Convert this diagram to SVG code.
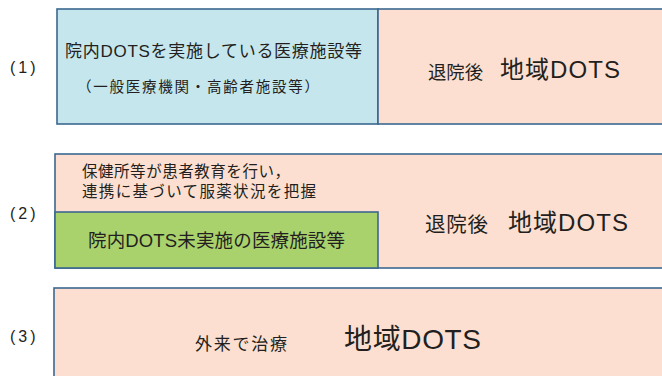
<svg xmlns="http://www.w3.org/2000/svg" width="662" height="376" viewBox="0 0 662 376">
<style>
text{font-family:"Noto Sans CJK JP","Noto Sans",sans-serif;fill:#231f20}
.lat{font-family:"Liberation Sans","Noto Sans",sans-serif}
.lbl{font-family:"Liberation Sans",sans-serif;font-size:16px;letter-spacing:3px}
.box{stroke:#3b6890;stroke-width:1.6}
.blue{fill:#c6e6ee}
.peach{fill:#fcdfd0}
.green{fill:#aad26c}
</style>
<rect width="662" height="376" fill="#ffffff"/>
<g id="row1">
<text class="lbl" x="10" y="73">(1)</text>
<g id="r1-left">
<rect class="box blue" x="57" y="9" width="321" height="115"/>
<text x="65" y="57" font-size="17" textLength="297" lengthAdjust="spacing">院内<tspan class="lat">DOTS</tspan>を実施している医療施設等</text>
<text x="77" y="92" font-size="14.5" textLength="242" lengthAdjust="spacing">（一般医療機関・高齢者施設等）</text>
</g>
<g id="r1-right">
<rect class="box peach" x="378" y="9" width="290" height="115"/>
<text x="428" y="79" font-size="18" textLength="55" lengthAdjust="spacingAndGlyphs">退院後</text>
<text x="500" y="78" font-size="24" textLength="120" lengthAdjust="spacing">地域<tspan class="lat">DOTS</tspan></text>
</g>
</g>
<g id="row2">
<text class="lbl" x="10" y="219">(2)</text>
<g id="r2-right">
<rect class="box peach" x="55" y="154" width="613" height="114"/>
<text x="82" y="177" font-size="15.5" textLength="208" lengthAdjust="spacing">保健所等が患者教育を行い，</text>
<text x="82" y="197" font-size="15.5" textLength="234" lengthAdjust="spacing">連携に基づいて服薬状況を把握</text>
<text x="425" y="232" font-size="20.5" textLength="63" lengthAdjust="spacing">退院後</text>
<text x="508" y="231" font-size="24" textLength="120" lengthAdjust="spacing">地域<tspan class="lat">DOTS</tspan></text>
</g>
<g id="r2-left">
<rect class="box green" x="55" y="212" width="323" height="56"/>
<text x="88" y="247" font-size="18.5" textLength="257" lengthAdjust="spacing">院内<tspan class="lat">DOTS</tspan>未実施の医療施設等</text>
</g>
</g>
<g id="row3">
<text class="lbl" x="10" y="342">(3)</text>
<g id="r3">
<rect class="box peach" x="54" y="288" width="614" height="100"/>
<text x="195" y="350" font-size="17" textLength="92" lengthAdjust="spacing">外来で治療</text>
<text x="344" y="349" font-size="28" textLength="137" lengthAdjust="spacing">地域<tspan class="lat">DOTS</tspan></text>
</g>
</g>
</svg>
